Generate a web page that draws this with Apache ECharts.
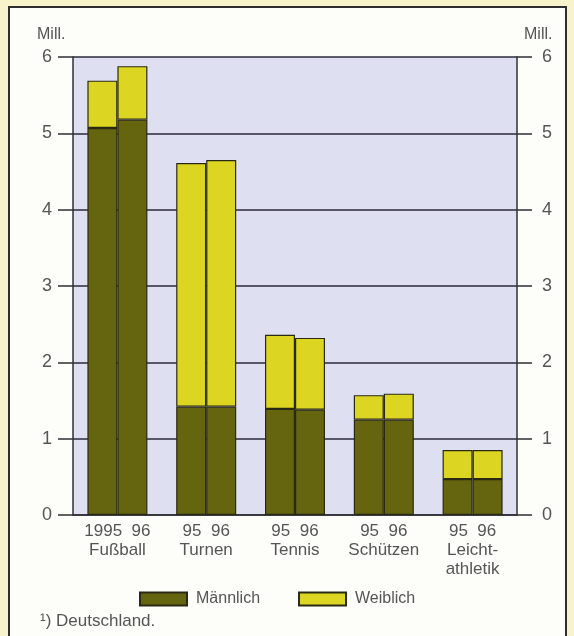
<!DOCTYPE html>
<html>
<head>
<meta charset="utf-8">
<script src="https://cdn.jsdelivr.net/npm/echarts@6/dist/echarts.min.js"></script>
<style>
  html, body { margin: 0; padding: 0; background: #f9f3cb; }
  #chart { width: 574px; height: 636px; }
</style>
</head>
<body>
<div id="chart"></div>
<script>
// Sportarten, Jahre, Mitglieder in Mill.
var sports = ['Fußball', 'Turnen', 'Tennis', 'Schützen', 'Leicht-\nathletik']
var yearLabels = ['1995  96', '95  96', '95  96', '95  96', '95  96']
var male95 = [5.07, 1.42, 1.39, 1.25, 0.47]
var female95 = [0.62, 3.19, 0.97, 0.32, 0.38]
var male96 = [5.18, 1.42, 1.38, 1.25, 0.47]
var female96 = [0.70, 3.23, 0.94, 0.34, 0.38]
var yTicks = [0, 1, 2, 3, 4, 5, 6]

var maleColor = '#66650f'
var femaleColor = '#dcd622'
var edge = '#2a2914'

var chart = echarts.init(document.getElementById('chart'))

function yAxisCfg (pos, margin) {
  return {
    type: 'value',
    position: pos,
    min: yTicks[0],
    max: yTicks[yTicks.length - 1],
    interval: 1,
    axisLine: { show: true, lineStyle: { color: '#2f2f36', width: 1.5 } },
    axisTick: { show: true, length: 15, lineStyle: { color: '#2f2f36', width: 1.5 } },
    axisLabel: { margin: margin, fontSize: 18, color: '#555', fontFamily: 'Liberation Sans' },
    splitLine: { show: pos === 'left', lineStyle: { color: '#2a2a38', width: 1.5 } }
  }
}

function barSeries (name, stack, data, color) {
  return {
    name: name,
    type: 'bar',
    stack: stack,
    data: data,
    barWidth: 30,
    barGap: '0%',
    itemStyle: { color: color, borderColor: edge, borderWidth: 1.2 }
  }
}

chart.setOption({
  animation: false,
  textStyle: { fontFamily: 'Liberation Sans' },
  graphic: [
    {
      type: 'rect',
      z: -10,
      shape: { x: 9, y: 7, width: 557, height: 640 },
      style: { fill: '#fdfdf9', stroke: '#2e2e2e', lineWidth: 2 }
    },
    {
      type: 'text', left: 37, top: 27,
      style: { text: 'Mill.', fontSize: 16, fill: '#555', fontFamily: 'Liberation Sans' }
    },
    {
      type: 'text', left: 524, top: 27,
      style: { text: 'Mill.', fontSize: 16, fill: '#555', fontFamily: 'Liberation Sans' }
    },
    {
      type: 'text', left: 40, top: 613,
      style: { text: '¹) Deutschland.', fontSize: 17, fill: '#555', fontFamily: 'Liberation Sans' }
    }
  ],
  grid: {
    left: 73,
    right: 57,
    top: 57,
    bottom: 121,
    show: true,
    backgroundColor: '#dedff1',
    borderWidth: 0
  },
  legend: {
    data: ['Männlich', 'Weiblich'],
    top: 586,
    left: 134,
    icon: 'rect',
    itemWidth: 47,
    itemHeight: 13,
    itemGap: 38,
    textStyle: { fontSize: 16, color: '#555', padding: [0, 0, 0, 4] }
  },
  xAxis: {
    type: 'category',
    data: sports,
    axisLine: { show: true, lineStyle: { color: '#2f2f36', width: 1.5 } },
    axisTick: { show: false },
    axisLabel: {
      interval: 0,
      margin: 7,
      fontSize: 17,
      lineHeight: 19,
      color: '#555',
      formatter: function (v, i) { return yearLabels[i] + '\n' + v }
    }
  },
  yAxis: [yAxisCfg('left', 21), yAxisCfg('right', 25)],
  series: [
    barSeries('Männlich', 'y95', male95, maleColor),
    barSeries('Weiblich', 'y95', female95, femaleColor),
    barSeries('Männlich', 'y96', male96, maleColor),
    barSeries('Weiblich', 'y96', female96, femaleColor)
  ]
})
</script>
</body>
</html>
